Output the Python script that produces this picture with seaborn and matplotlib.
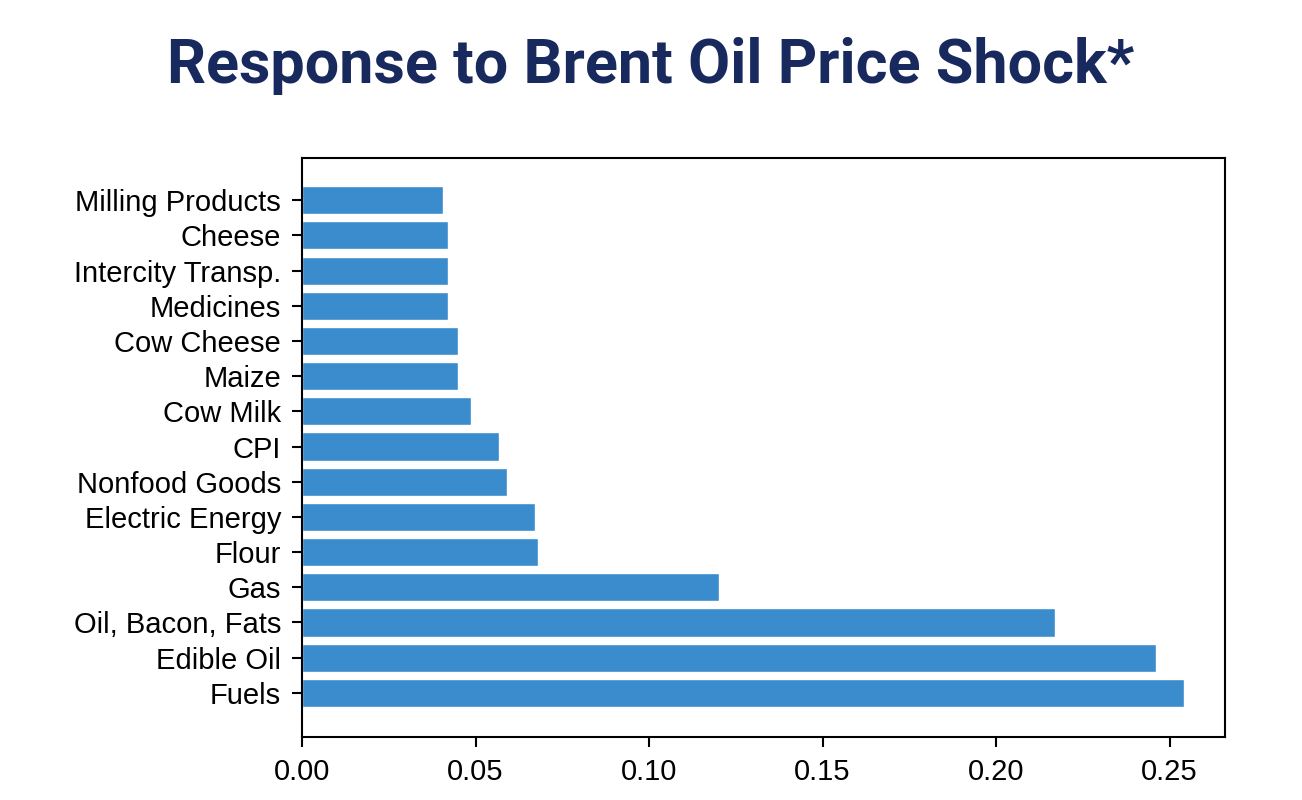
import matplotlib
matplotlib.use('Agg')
import matplotlib.pyplot as plt
import seaborn as sns
import pandas as pd

categories = ['Milling Products', 'Cheese', 'Intercity Transp.', 'Medicines',
              'Cow Cheese', 'Maize', 'Cow Milk', 'CPI', 'Nonfood Goods',
              'Electric Energy', 'Flour', 'Gas', 'Oil, Bacon, Fats',
              'Edible Oil', 'Fuels']
response = [0.0407, 0.042, 0.042, 0.042, 0.045, 0.045, 0.0487, 0.0568,
            0.059, 0.067, 0.068, 0.120, 0.217, 0.246, 0.254]

df = pd.DataFrame({'category': categories, 'response': response})

sns.set_style('white')
plt.rcParams['font.family'] = ['Liberation Sans', 'DejaVu Sans']

fig = plt.figure(figsize=(13.02, 8), dpi=100)
ax = fig.add_axes([0.232, 0.079, 0.709, 0.7235])
sns.barplot(data=df, x='response', y='category', color='#3a8ccc',
            saturation=1, width=0.8, ax=ax)
ax.set_xlim(0, 0.266)
ax.set_ylim(len(categories) - 1 + 1.25, -1.2)
ax.set_xticks([0.00, 0.05, 0.10, 0.15, 0.20, 0.25])
ax.set_xticklabels(['0.00', '0.05', '0.10', '0.15', '0.20', '0.25'])
ax.set_xlabel('')
ax.set_ylabel('')
ax.tick_params(axis='both', labelsize=21, length=7, width=1.5,
               bottom=True, left=True, colors='black')
ax.tick_params(axis='y', pad=8)
ax.tick_params(axis='x', pad=8)
for s in ax.spines.values():
    s.set_color('black')
    s.set_linewidth(1.5)

fig.text(0.5, 0.896, 'Response to Brent Oil Price Shock*', ha='center',
         va='baseline', fontsize=44, fontweight='bold', color='#18295e',
         family=['Roboto', 'DejaVu Sans'])

fig.savefig('out.png', dpi=100)
